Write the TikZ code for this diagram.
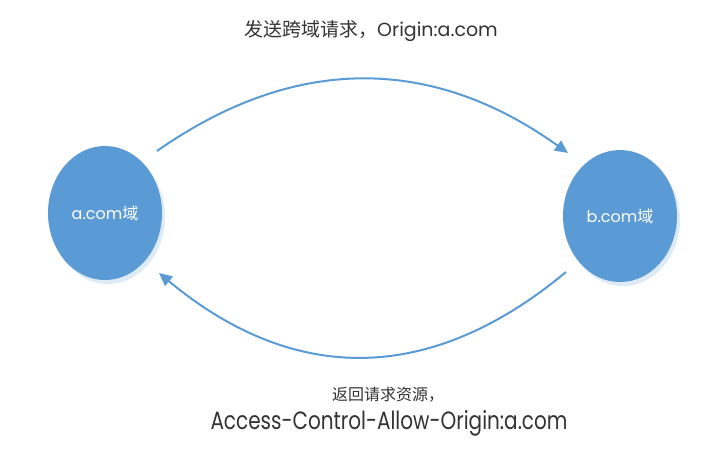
\documentclass[tikz,border=0pt]{standalone}
\usepackage{fontspec}
\setmainfont{Poppins}
\newfontfamily\narrowfont[FakeStretch=0.8]{Poppins}
\newfontfamily\cjk{Noto Sans CJK SC}
\usetikzlibrary{shapes.geometric,arrows.meta,shadows}
\definecolor{nodeblue}{HTML}{5B9BD5}
\definecolor{txtgray}{HTML}{333333}
\begin{document}
\begin{tikzpicture}[x=1pt,y=-1pt,
  domainnode/.style={ellipse, fill=nodeblue, minimum width=114pt, minimum height=134pt, inner sep=0pt, text=white, font=\fontsize{16}{18}\selectfont,
    drop shadow={shadow xshift=3pt, shadow yshift=-4pt, fill=nodeblue!45, opacity=0.45}},
  flow/.style={draw=nodeblue, line width=2pt, -{Triangle[length=13pt,width=12pt]}},
  lbl/.style={text=txtgray, inner sep=0pt}]
\useasboundingbox (0,0) rectangle (719,456);
\node[domainnode] (a) at (105,213) {a.com{\cjk 域}};
\node[domainnode, minimum height=132pt] (b) at (620,216) {b.com{\cjk 域}};
\coordinate (s1) at (157,151);
\coordinate (t1) at (568,153);
\coordinate (s2) at (566,272);
\coordinate (t2) at (159,273);
\draw[flow] (s1) .. controls (294,55) and (431,55) .. (t1);
\draw[flow] (s2) .. controls (430,385) and (294,385) .. (t2);
\node[lbl, font=\fontsize{19}{21}\selectfont] (top) at (371,31) {{\cjk 发送跨域请求，}Origin:a.com};
\node[lbl, font=\fontsize{16}{18}\selectfont] (bot1) at (388,395) {\cjk 返回请求资源，};
\node[lbl, font=\narrowfont\fontsize{25}{27}\selectfont] (bot2) at (389,423) {Access-Control-Allow-Origin:a.com};
\end{tikzpicture}
\end{document}
